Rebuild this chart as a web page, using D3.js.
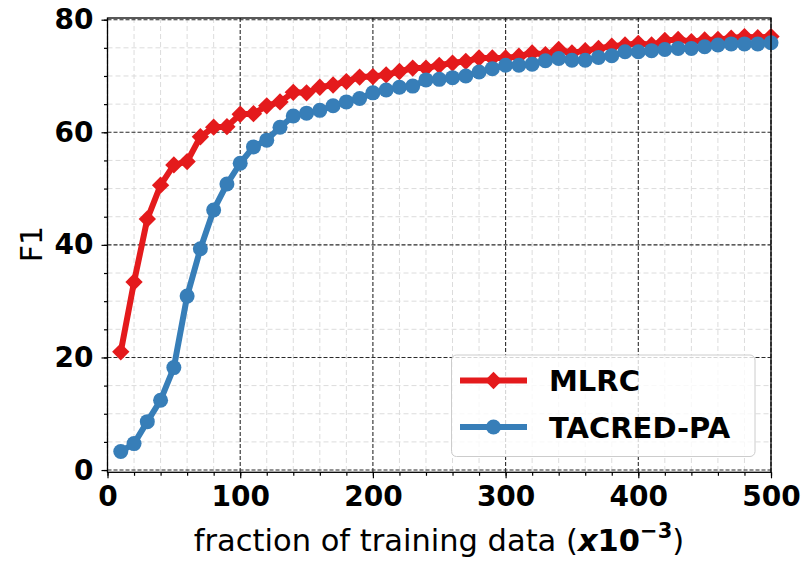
<!DOCTYPE html>
<html>
<head>
<meta charset="utf-8">
<script src="https://cdn.jsdelivr.net/npm/d3@7"></script>
<style>
  body { margin: 0; background: #fff; }
  text { font-family: "DejaVu Sans", sans-serif; }
</style>
</head>
<body>
<div id="chart"></div>
<script>
const width = 806;
const height = 562;

// data
const fractions = [10, 20, 30, 40, 50, 60, 70, 80, 90, 100,
    110, 120, 130, 140, 150, 160, 170, 180, 190, 200,
    210, 220, 230, 240, 250, 260, 270, 280, 290, 300,
    310, 320, 330, 340, 350, 360, 370, 380, 390, 400,
    410, 420, 430, 440, 450, 460, 470, 480, 490, 500];
const mlrc = [21.0, 33.4, 44.6, 50.6, 54.2, 54.8, 59.2, 60.9, 61.0, 63.2,
    63.3, 64.7, 65.4, 67.1, 67.0, 68.0, 68.4, 69.0, 69.8, 69.9,
    70.2, 70.8, 71.4, 71.4, 71.9, 72.3, 72.6, 73.2, 73.2, 73.2,
    73.5, 74.1, 73.8, 74.7, 74.1, 74.5, 74.9, 75.3, 75.5, 75.8,
    75.5, 76.3, 76.5, 76.1, 76.4, 76.5, 76.7, 77.0, 76.8, 77.0];
const tacred = [3.3, 4.7, 8.6, 12.4, 18.2, 30.9, 39.3, 46.2, 50.8, 54.5,
    57.4, 58.6, 60.9, 62.9, 63.4, 63.9, 64.7, 65.4, 66.0, 67.0,
    67.5, 68.0, 68.2, 69.3, 69.4, 69.7, 70.0, 70.7, 71.3, 71.9,
    71.9, 72.1, 72.7, 73.1, 72.8, 72.8, 73.3, 73.6, 74.3, 74.3,
    74.5, 74.7, 74.9, 74.9, 75.2, 75.5, 75.7, 75.7, 75.7, 75.9];
const seriesNames = ["MLRC", "TACRED-PA"];
const xTicks = [0, 100, 200, 300, 400, 500];
const yTicks = [0, 20, 40, 60, 80];
const xMinor = d3.range(0, 501, 20);
const yMinor = d3.range(0, 81, 5);

const colors = ["#e41a1c", "#377eb8"];

const svg = d3.select("#chart")
    .append("svg")
    .attr("width", width)
    .attr("height", height);

const x = d3.scaleLinear().domain([0, 500]).range([107.5, 771]);
const y = d3.scaleLinear().domain([-0.4, 80.3]).range([472.3, 18]);

const g = svg.append("g");

// minor grid
g.append("g").selectAll("line").data(xMinor.filter(d => d % 100 !== 0))
    .enter().append("line")
    .attr("x1", d => x(d)).attr("x2", d => x(d))
    .attr("y1", y.range()[1]).attr("y2", y.range()[0])
    .attr("stroke", "#dcdcdc").attr("stroke-width", 1)
    .attr("stroke-dasharray", "5,3");
g.append("g").selectAll("line").data(yMinor.filter(d => d % 20 !== 0))
    .enter().append("line")
    .attr("y1", d => y(d)).attr("y2", d => y(d))
    .attr("x1", x.range()[0]).attr("x2", x.range()[1])
    .attr("stroke", "#dcdcdc").attr("stroke-width", 1)
    .attr("stroke-dasharray", "5,3");

// major grid
g.append("g").selectAll("line").data(xTicks)
    .enter().append("line")
    .attr("x1", d => x(d)).attr("x2", d => x(d))
    .attr("y1", y.range()[1]).attr("y2", y.range()[0])
    .attr("stroke", "#2a2a2a").attr("stroke-width", 1.1)
    .attr("stroke-dasharray", "4,2");
g.append("g").selectAll("line").data(yTicks)
    .enter().append("line")
    .attr("y1", d => y(d)).attr("y2", d => y(d))
    .attr("x1", x.range()[0]).attr("x2", x.range()[1])
    .attr("stroke", "#2a2a2a").attr("stroke-width", 1.1)
    .attr("stroke-dasharray", "4,2");

// axes
const xAxis = g.append("g")
    .attr("transform", `translate(0,${y.range()[0]})`)
    .call(d3.axisBottom(x).tickValues(xTicks).tickSize(6).tickPadding(8));
const xAxisMinor = g.append("g")
    .attr("transform", `translate(0,${y.range()[0]})`)
    .call(d3.axisBottom(x).tickValues(xMinor).tickSize(3.5).tickFormat(""));
const yAxis = g.append("g")
    .attr("transform", `translate(${x.range()[0]},0)`)
    .call(d3.axisLeft(y).tickValues(yTicks).tickSize(6).tickPadding(8));
const yAxisMinor = g.append("g")
    .attr("transform", `translate(${x.range()[0]},0)`)
    .call(d3.axisLeft(y).tickValues(yMinor).tickSize(3.5).tickFormat(""));

[xAxis, yAxis, xAxisMinor, yAxisMinor].forEach(a => {
    a.select(".domain").remove();
    a.selectAll(".tick line").attr("stroke", "#000").attr("stroke-width", 1.2);
    a.selectAll("text")
        .style("font-family", "DejaVu Sans")
        .style("font-weight", "bold")
        .style("font-size", "28px")
        .attr("fill", "#000");
});

// lines
const seriesData = [mlrc, tacred];
const line = d3.line()
    .x((d, i) => x(fractions[i]))
    .y(d => y(d));

seriesData.forEach((vals, k) => {
    g.append("path")
        .datum(vals)
        .attr("fill", "none")
        .attr("stroke", colors[k])
        .attr("stroke-width", 6)
        .attr("stroke-linejoin", "round")
        .attr("d", line);
});

// markers
g.append("g").selectAll("path").data(mlrc)
    .enter().append("path")
    .attr("d", d3.symbol().type(d3.symbolSquare).size(150))
    .attr("transform", (d, i) => `translate(${x(fractions[i])},${y(d)}) rotate(45)`)
    .attr("fill", colors[0]);
g.append("g").selectAll("circle").data(tacred)
    .enter().append("circle")
    .attr("cx", (d, i) => x(fractions[i]))
    .attr("cy", d => y(d))
    .attr("r", 7.5)
    .attr("fill", colors[1]);

// frame
g.append("rect")
    .attr("x", x.range()[0]).attr("y", y.range()[1])
    .attr("width", x.range()[1] - x.range()[0])
    .attr("height", y.range()[0] - y.range()[1])
    .attr("fill", "none").attr("stroke", "#000").attr("stroke-width", 1.3);

// axis titles
const xt = svg.append("text")
    .attr("x", 439)
    .attr("y", 551)
    .style("text-anchor", "middle")
    .style("font-size", "30.5px")
    .attr("fill", "#000");
xt.append("tspan").text("fraction of training data (");
xt.append("tspan").style("font-weight", "bold").style("font-style", "italic").text("x");
xt.append("tspan").style("font-weight", "bold").text("10");
xt.append("tspan").style("font-weight", "bold").style("font-size", "21px").attr("dy", -13).text("\u22123");
xt.append("tspan").attr("dy", 13).text(")");

svg.append("text")
    .attr("transform", "translate(42,244) rotate(-90)")
    .style("text-anchor", "middle")
    .style("font-size", "30px")
    .attr("fill", "#000")
    .text("F1");

// legend
const legend = svg.append("g");
legend.append("rect")
    .attr("x", 451.5).attr("y", 355)
    .attr("width", 303.5).attr("height", 101.5)
    .attr("rx", 5)
    .attr("fill", "#fff").attr("fill-opacity", 0.8)
    .attr("stroke", "#ccc").attr("stroke-width", 1);
const legendY = [380.5, 427];
seriesNames.forEach((name, k) => {
    legend.append("line")
        .attr("x1", 460).attr("x2", 527)
        .attr("y1", legendY[k]).attr("y2", legendY[k])
        .attr("stroke", colors[k]).attr("stroke-width", 6);
    if (k === 0) {
        legend.append("path")
            .attr("d", d3.symbol().type(d3.symbolSquare).size(150))
            .attr("transform", `translate(493.5,${legendY[k]}) rotate(45)`)
            .attr("fill", colors[k]);
    } else {
        legend.append("circle")
            .attr("cx", 493.5).attr("cy", legendY[k]).attr("r", 7.5)
            .attr("fill", colors[k]);
    }
    legend.append("text")
        .attr("x", 549).attr("y", legendY[k] + 10.5)
        .style("font-weight", "bold")
        .style("font-size", "29px")
        .attr("fill", "#000")
        .text(name);
});
</script>
</body>
</html>
